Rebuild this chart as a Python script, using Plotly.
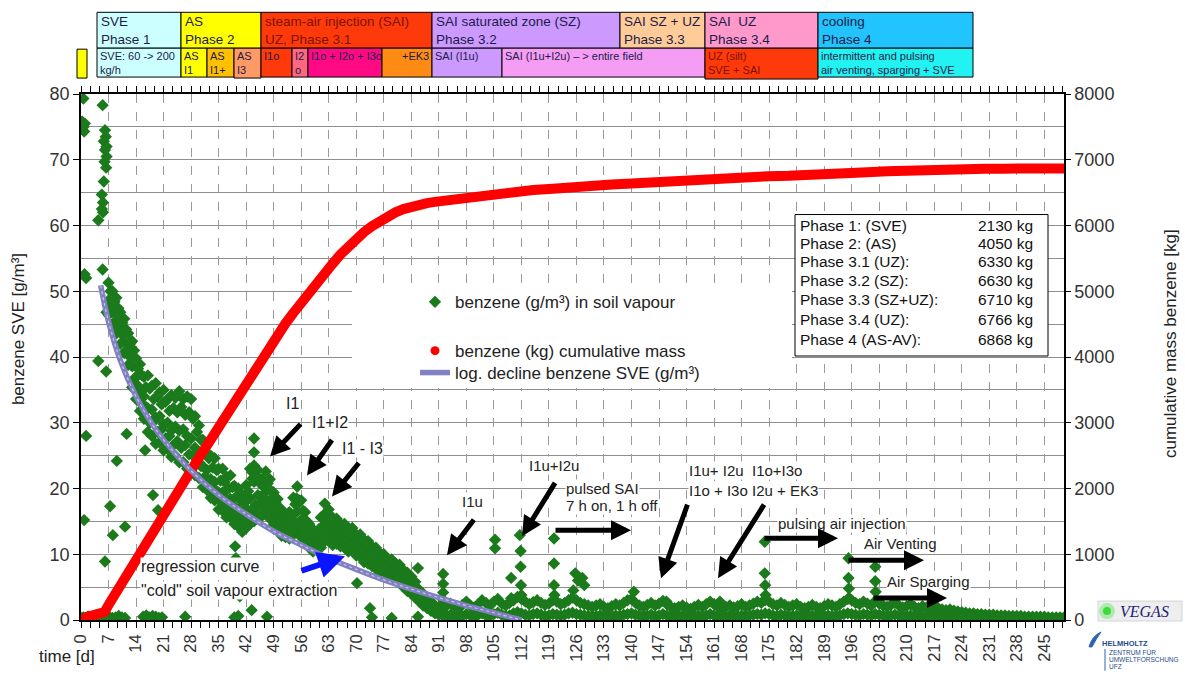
import plotly.graph_objects as go

# ---------------------------------------------------------------------------
# Data
# ---------------------------------------------------------------------------

# cumulative extracted benzene mass [kg] (right axis)
mass_day = [0, 1, 2, 3, 4, 5, 6, 7, 8,
            10, 12, 14, 16, 18, 20, 22, 24, 26, 28, 30, 32, 34, 36, 38, 40,
            42, 44, 46, 48, 50, 52, 54, 56, 58, 60, 62, 64, 66, 68, 70, 72,
            74, 76, 78, 80, 82, 84, 86, 88, 90,
            95, 100, 105, 110, 115, 120, 125, 130, 135, 140, 145, 150, 155,
            160, 165, 170, 175, 180, 185, 190, 195, 200, 205, 210, 215, 220,
            225, 230, 235, 240, 245, 250]
mass_kg = [0, 40, 60, 70, 75, 80, 120, 230, 330,
           520, 720, 930, 1120, 1310, 1490, 1680, 1880, 2070, 2290, 2470, 2650,
           2840, 3030, 3220, 3420, 3620, 3810, 4000, 4180, 4350, 4510, 4670,
           4830, 4990, 5140, 5280, 5420, 5560, 5690, 5800, 5900, 5990, 6070,
           6140, 6200, 6250, 6290, 6320, 6340, 6360,
           6400, 6440, 6480, 6510, 6540, 6560, 6590, 6610, 6625, 6640, 6660,
           6680, 6695, 6710, 6725, 6740, 6750, 6755, 6760, 6766, 6790, 6810,
           6825, 6838, 6848, 6855, 6860, 6863, 6865, 6866, 6867, 6868]

# logarithmic decline of the "cold" SVE concentration [g/m3]
fit_day = [5, 7, 10, 14, 18, 21, 28, 35, 42, 49, 56, 63, 70, 77, 84, 91, 98, 105, 112]
fit_conc = [50.9, 45.4, 39.5, 34.0, 29.9, 27.4, 22.7, 19.0, 16.1, 13.5, 11.4,
            9.4, 7.7, 6.1, 4.7, 3.4, 2.2, 1.1, 0.0]

# benzene in soil vapour [g/m3] - start-up readings, days 0-7
start_day = [0.6, 0.3, 0.6, 0.8, 1.0, 0.9, 1.3, 0.8, 1.3,
             5.5, 6.1, 6.3, 5.8, 6.5, 6.1, 6.5, 6.0, 6.4, 5.8, 5.3, 5.6, 5.3,
             5.6, 4.4, 5.5, 4.4, 6.4, 6.5]
start_conc = [79.3, 75.8, 75.0, 74.3, 75.5, 52.6, 52.0, 15.2, 28.0,
              78.3, 74.5, 73.5, 72.8, 72.0, 71.5, 70.5, 69.7, 68.8, 66.7, 64.7,
              63.5, 62.5, 62.0, 60.8, 53.3, 39.4, 37.8, 46.8]

# daily readings, days 7-92: upper, middle and lower part of the scatter band
band_day = list(range(7, 93))
band_hi = [51.3, 50.0, 49.0, 46.8, 45.8, 43.6, 42.4, 39.8, 38.9, 37.0,
           37.2, 35.6, 36.0, 34.6, 35.0, 33.6, 34.2, 33.8, 34.8, 33.6,
           34.0, 33.6, 31.0, 29.6, 27.4, 26.6, 25.0, 24.6, 23.0, 23.0,
           21.8, 22.0, 20.4, 20.0, 19.0, 20.5, 23.0, 27.6, 22.8, 21.4,
           22.6, 21.4, 19.4, 18.4, 16.8, 15.6, 16.4, 18.6, 20.3, 18.2,
           16.4, 14.6, 13.8, 13.2, 15.6, 17.7, 16.8, 15.6, 15.4, 14.6,
           14.6, 14.0, 14.0, 13.0, 13.0, 12.2, 12.0, 11.2, 11.0, 10.2,
           10.0, 9.2, 9.2, 8.6, 8.4, 7.6, 7.2, 6.6, 5.8, 4.6,
           4.0, 3.2, 2.8, 2.2, 2.0, 1.9]
band_mid = [48.6, 47.8, 45.6, 44.6, 42.4, 41.0, 38.6, 37.0, 34.6, 34.0,
            32.2, 32.0, 30.8, 31.0, 29.8, 30.0, 28.8, 29.4, 28.8, 29.0,
            28.0, 27.6, 26.2, 25.4, 23.4, 22.8, 21.4, 21.0, 19.4, 19.4,
            18.4, 18.4, 17.2, 16.8, 16.0, 17.0, 18.5, 21.0, 19.0, 18.6,
            19.5, 18.2, 16.6, 15.8, 14.6, 14.2, 14.0, 15.2, 16.5, 15.2,
            13.6, 12.8, 12.0, 11.8, 13.0, 14.6, 14.2, 13.4, 13.2, 12.8,
            12.6, 12.0, 12.2, 11.4, 11.2, 10.4, 10.2, 9.4, 9.2, 8.4,
            8.6, 7.8, 7.8, 7.4, 7.0, 6.4, 5.6, 5.0, 4.6, 3.6,
            3.0, 2.6, 2.0, 1.6, 1.4, 1.3]
band_lo = [46.4, 45.0, 43.6, 42.0, 40.6, 38.8, 35.4, 33.6, 31.8, 30.6,
           28.6, 28.0, 26.8, 27.0, 25.8, 26.0, 24.8, 25.0, 24.0, 24.0,
           23.0, 22.6, 22.0, 21.6, 20.2, 19.8, 18.6, 18.2, 16.8, 16.6,
           15.6, 15.6, 14.6, 14.2, 13.4, 14.0, 14.6, 15.0, 16.0, 15.8,
           16.6, 15.4, 14.4, 14.0, 12.8, 12.6, 12.4, 13.0, 13.4, 12.6,
           11.8, 11.0, 10.4, 10.6, 11.0, 12.0, 12.0, 11.4, 11.6, 11.2,
           11.0, 10.4, 10.6, 9.8, 9.6, 8.8, 8.6, 8.2, 7.8, 7.2,
           7.4, 6.8, 6.6, 6.2, 5.8, 5.0, 4.4, 4.0, 3.4, 2.8,
           2.2, 1.8, 1.4, 1.0, 0.8, 0.7]

# readings taken in between (days 7.5-91.5)
half_day = [d + 0.5 for d in range(7, 92)]
band_a = [50.0, 48.4, 47.4, 45.2, 44.2, 42.0, 41.0, 38.2, 37.2, 35.4,
          35.2, 33.6, 34.0, 32.8, 33.2, 31.8, 32.2, 31.6, 32.4, 31.2,
          31.6, 30.6, 28.6, 27.4, 25.6, 24.6, 23.2, 22.8, 21.2, 21.0,
          20.0, 20.2, 18.8, 18.2, 17.8, 19.6, 22.5, 22.0, 20.8, 20.2,
          20.8, 19.6, 17.8, 17.0, 15.6, 15.2, 16.0, 17.6, 18.2, 16.6,
          15.0, 13.8, 12.8, 13.8, 15.8, 16.0, 15.2, 14.6, 14.0, 13.8,
          13.4, 13.2, 12.6, 12.4, 11.6, 11.4, 10.6, 10.4, 9.6, 9.4,
          8.8, 8.6, 8.0, 8.0, 7.2, 6.8, 6.0, 5.4, 4.2, 3.8,
          3.0, 2.6, 2.0, 1.8, 1.6]
band_b = [47.2, 46.6, 44.2, 43.4, 41.0, 40.0, 36.6, 35.6, 32.8, 32.4,
          30.0, 30.2, 28.6, 29.0, 27.6, 28.0, 26.6, 27.2, 26.2, 26.6,
          25.2, 25.0, 24.0, 23.4, 21.8, 21.2, 19.8, 19.6, 18.0, 18.0,
          16.8, 17.0, 15.8, 15.6, 14.8, 15.6, 16.6, 17.2, 17.6, 17.0,
          18.0, 16.8, 15.4, 14.8, 13.6, 13.4, 13.2, 14.0, 14.8, 13.8,
          12.6, 12.0, 11.2, 11.2, 12.0, 13.2, 13.0, 12.4, 12.4, 12.0,
          11.8, 11.2, 11.4, 10.6, 10.4, 9.6, 9.4, 8.8, 8.6, 7.8,
          8.0, 7.2, 7.2, 6.8, 6.4, 5.6, 5.0, 4.4, 3.8, 3.2,
          2.6, 2.2, 1.6, 1.2, 1.0]

# single readings: scattered values and injection peaks
peak_day = [11.6, 9.1, 7.4, 18.3, 19.6, 11.2, 8.1, 6.1, 16.3,
            39.2, 39.4, 40.4, 43.4,
            44.0, 44.0, 43.6, 44.4, 47.3, 54.8, 55.3, 61.8, 62.3,
            70.2, 73.5, 85.7, 92.1, 92.1, 92.1, 92.2,
            105.3, 105.3, 109.4, 109.4,
            111.6, 111.8, 111.8, 111.9, 112.0,
            120.3, 120.3, 120.3, 120.4,
            125.7, 126.4, 127.5, 128.0, 125.2,
            140.6, 148.9, 162.5,
            173.9, 173.9, 174.0, 174.1,
            195.2, 195.2, 195.3, 195.4,
            202.0, 202.0, 202.1, 202.2]
peak_conc = [28.3, 24.2, 17.3, 19.0, 16.7, 14.2, 12.9, 8.9, 25.8,
             11.2, 9.4, 3.6, 1.5,
             25.5, 23.5, 21.5, 17.5, 20.8, 18.5, 17.8, 16.0, 15.8,
             5.6, 1.8, 7.9, 7.0, 5.5, 4.2, 3.0,
             12.2, 10.9, 6.4, 3.3,
             12.9, 10.5, 8.1, 5.3, 3.8,
             12.4, 8.6, 5.3, 3.8,
             7.1, 6.0, 6.4, 5.3, 4.5,
             4.3, 2.8, 2.8,
             11.9, 7.1, 5.3, 3.8,
             9.4, 6.4, 4.8, 3.3,
             8.1, 5.9, 4.3, 3.0]

# near-zero readings during phases 1 - 3.1
zero_day = [0.2, 0.6, 1.2, 1.8, 2.4, 3.0, 3.6, 4.8, 5.6, 6.4, 7.2, 8.0, 8.8,
            9.6, 10.4, 11.2, 15.8, 16.6, 17.4, 18.2, 19.0, 19.8, 20.6, 26.5,
            39.0, 40.0, 47.3, 74.0, 79.0, 85.7]
zero_conc = [0.3, 0.4, 0.3, 0.5, 0.3, 0.4, 0.6, 0.5, 0.3, 0.4, 0.5, 0.3, 0.4,
             0.6, 0.4, 0.3, 0.5, 0.7, 0.4, 0.6, 0.5, 0.3, 0.4, 0.5,
             0.4, 0.6, 0.5, 0.4, 0.3, 0.5]

# daily readings, days 93-250: upper and lower part of the low band
tail_day = list(range(93, 251))
tail_hi = [2.2, 2.5, 2.0, 1.8, 2.3, 2.8, 2.2, 1.9,
           2.4, 3.0, 2.6, 2.2, 2.8, 3.2, 2.5, 2.2, 2.6, 3.0,
           3.5, 3.2, 2.8, 2.4, 2.7, 3.0, 2.6, 2.3, 2.5, 3.0,
           2.8, 2.4, 2.6, 3.0, 3.4, 3.0, 2.6, 2.4, 2.2, 2.0,
           2.2, 2.4, 2.0, 1.8, 2.1, 2.4, 2.2, 2.6, 3.0, 3.2,
           2.6, 2.2, 2.0, 2.3, 2.6, 2.2, 2.5, 2.9, 2.4, 2.0,
           1.8, 2.0, 2.2, 1.9, 1.7, 2.0, 2.3, 2.0, 2.4, 2.8,
           2.4, 2.0, 1.8, 2.0, 2.2, 1.9, 2.1, 2.4, 2.0, 2.2,
           2.5, 2.8, 2.6, 3.0, 2.8, 2.4, 2.2, 2.6, 2.3, 2.0,
           2.2, 2.4, 2.0, 1.8, 2.0, 2.3, 2.0, 1.8, 2.1, 2.4,
           2.2, 2.0, 2.4, 2.8, 3.2, 3.0, 2.6, 2.4, 2.8, 2.5,
           2.2, 2.8, 2.5, 2.2, 2.0, 2.3, 2.6, 2.2, 1.9, 2.1,
           2.4, 2.0, 1.8, 2.1, 1.9, 1.7, 2.0, 1.8, 1.6, 1.5,
           1.6, 1.4, 1.3, 1.2, 1.1, 1.0, 1.0, 0.9, 0.9, 0.8,
           0.8, 0.8, 0.7, 0.7, 0.7, 0.6, 0.6, 0.6, 0.6, 0.5,
           0.5, 0.5, 0.5, 0.5, 0.5, 0.4, 0.4, 0.4, 0.4, 0.4]
tail_lo = [0.6, 0.8, 0.5, 0.7, 0.6, 0.9, 0.7, 0.5,
           0.8, 1.0, 0.7, 0.6, 0.9, 1.1, 0.8, 0.6, 0.7, 1.0,
           1.2, 1.0, 0.8, 0.7, 0.9, 1.0, 0.8, 0.6, 0.7, 0.9,
           0.8, 0.7, 0.8, 1.0, 1.1, 0.9, 0.8, 0.7, 0.6, 0.6,
           0.6, 0.7, 0.6, 0.5, 0.6, 0.7, 0.6, 0.8, 0.9, 1.0,
           0.8, 0.7, 0.6, 0.7, 0.8, 0.6, 0.7, 0.9, 0.7, 0.6,
           0.5, 0.6, 0.7, 0.6, 0.5, 0.6, 0.7, 0.6, 0.7, 0.9,
           0.7, 0.6, 0.5, 0.6, 0.7, 0.6, 0.6, 0.7, 0.6, 0.7,
           0.8, 0.9, 0.8, 1.0, 0.9, 0.7, 0.6, 0.8, 0.7, 0.6,
           0.6, 0.7, 0.6, 0.5, 0.6, 0.7, 0.6, 0.5, 0.6, 0.7,
           0.6, 0.6, 0.7, 0.9, 1.0, 0.9, 0.8, 0.7, 0.9, 0.8,
           0.7, 0.9, 0.8, 0.7, 0.6, 0.7, 0.8, 0.7, 0.6, 0.6,
           0.7, 0.6, 0.5, 0.6, 0.5, 0.5, 0.6, 0.5, 0.5, 0.4,
           0.4, 0.4, 0.4, 0.3, 0.3, 0.3, 0.3, 0.3, 0.3, 0.2,
           0.2, 0.2, 0.2, 0.2, 0.2, 0.2, 0.2, 0.2, 0.2, 0.2,
           0.2, 0.2, 0.2, 0.2, 0.2, 0.2, 0.2, 0.2, 0.2, 0.2]

# extracted mass per phase (text box)
phase_names = ["Phase 1: (SVE)", "Phase 2: (AS)", "Phase 3.1 (UZ):",
               "Phase 3.2 (SZ):", "Phase 3.3 (SZ+UZ):", "Phase 3.4 (UZ):",
               "Phase 4 (AS-AV):"]
phase_mass = [2130, 4050, 6330, 6630, 6710, 6766, 6868]

x_ticks = list(range(0, 246, 7))

# ---------------------------------------------------------------------------
# Page geometry helpers
# ---------------------------------------------------------------------------
FONT = "Liberation Sans, Arial, sans-serif"
TXT = "#222222"
W, H = 1185, 674
M_L, M_R, M_T, M_B = 81, 121, 94, 52
PLOT_W = W - M_L - M_R
PLOT_H = H - M_T - M_B


def fx(px):
    return (px - M_L) / PLOT_W


def fy(py):
    return (H - M_B - py) / PLOT_H


# ---------------------------------------------------------------------------
# Traces
# ---------------------------------------------------------------------------
green_x = (start_day + peak_day + zero_day + band_day + band_day + band_day
           + half_day + half_day + tail_day + tail_day)
green_y = (start_conc + peak_conc + zero_conc + band_hi + band_mid + band_lo
           + band_a + band_b + tail_hi + tail_lo)

fig = go.Figure()

fig.add_trace(go.Scatter(
    x=green_x, y=green_y, mode="markers", yaxis="y",
    marker=dict(symbol="diamond", size=9.5, color="#1b7a1b", line=dict(width=0)),
    name="benzene (g/m³) in soil vapour", legend="legend",
))

fig.add_trace(go.Scatter(
    x=mass_day, y=mass_kg, mode="lines", yaxis="y2",
    line=dict(color="#ff0000", width=10), showlegend=False,
    name="benzene (kg) cumulative mass",
))
fig.add_trace(go.Scatter(
    x=[None], y=[None], mode="markers", yaxis="y2",
    marker=dict(symbol="circle", size=9, color="#ff0000"),
    name="benzene (kg) cumulative mass", legend="legend2",
))

fig.add_trace(go.Scatter(
    x=fit_day, y=fit_conc, mode="lines", yaxis="y3",
    line=dict(color="#8080c2", width=5.5, shape="spline"),
    name="log. decline benzene SVE (g/m³)", legend="legend3",
))
# hatched look of the regression band
fig.add_trace(go.Scatter(
    x=fit_day, y=fit_conc, mode="lines", yaxis="y3",
    line=dict(color="rgba(255,255,255,0.55)", width=1.2, shape="spline", dash="dot"),
    showlegend=False, hoverinfo="skip",
))

# ---------------------------------------------------------------------------
# Shapes and annotations
# ---------------------------------------------------------------------------
shapes = []
annotations = []


def text(px, py, s, size=16, anchor="left", color=TXT, bg=None, **kw):
    d = dict(x=fx(px), y=fy(py), xref="paper", yref="paper", text=s,
             showarrow=False, xanchor=anchor, yanchor=kw.pop("yanchor", "middle"),
             font=dict(family=kw.pop("family", FONT), size=size, color=color),
             borderpad=0, align=kw.pop("align", anchor if anchor != "center" else "center"))
    if bg:
        d["bgcolor"] = bg
    d.update(kw)
    annotations.append(d)


def arrow(tx, ty, hx, hy, color="black", width=5, size=0.8):
    annotations.append(dict(
        x=fx(hx), y=fy(hy), xref="paper", yref="paper",
        ax=tx - hx, ay=ty - hy, axref="pixel", ayref="pixel",
        text="", showarrow=True, arrowhead=2, arrowsize=size,
        arrowwidth=width, arrowcolor=color, standoff=0, startstandoff=0,
    ))


def rect(x0, y0, x1, y1, fill, line="black", lw=1, layer="above"):
    shapes.append(dict(type="rect", xref="paper", yref="paper",
                       x0=fx(x0), x1=fx(x1), y0=fy(y0), y1=fy(y1),
                       fillcolor=fill, line=dict(color=line, width=lw), layer=layer))


# white area behind the legend
rect(352, 284, 792, 389, "white", line="rgba(0,0,0,0)", lw=0)

# phase header table
NAVY = "#1c1c48"
DRED = "#7c1200"
header_top = [
    (97, 181, "#ccffff", "SVE<br>Phase 1", NAVY),
    (181, 261, "#ffff00", "AS<br>Phase 2", NAVY),
    (261, 432, "#ff3a0a", "steam-air injection (SAI)<br>UZ, Phase 3.1", DRED),
    (432, 620, "#cc99ff", "SAI saturated zone (SZ)<br>Phase 3.2", NAVY),
    (620, 705, "#ffcc99", "SAI SZ + UZ<br>Phase 3.3", NAVY),
    (705, 818, "#ff99cc", "SAI  UZ<br>Phase 3.4", NAVY),
    (818, 973, "#22c4ff", "cooling<br>Phase 4", NAVY),
]
header_low = [
    (97, 181, 77, "#ccffff", "SVE: 60 -> 200<br>kg/h", NAVY, "left"),
    (181, 207, 77, "#ffff00", "AS<br>I1", NAVY, "left"),
    (207, 234, 77, "#ffc000", "AS<br>I1+", NAVY, "left"),
    (234, 261, 78, "#ff9966", "AS<br>I3", NAVY, "left"),
    (261, 292, 77, "#ff3a0a", "I1o", NAVY, "left"),
    (292, 308, 77, "#ff6680", "I2<br>o", NAVY, "left"),
    (308, 382, 77, "#ff0a84", "I1o + I2o + I3o", NAVY, "left"),
    (382, 432, 77, "#ff8a14", "+EK3", NAVY, "right"),
    (432, 502, 77, "#cc99ff", "SAI (I1u)", NAVY, "left"),
    (502, 705, 77, "#f59cf5", "SAI (I1u+I2u) – > entire field", NAVY, "left"),
    (705, 818, 79, "#ff3a0a", "UZ (silt)<br>SVE + SAI", DRED, "left"),
    (818, 973, 77, "#22f2f2", "intermittent and pulsing<br>air venting, sparging + SVE", NAVY, "left"),
]
for x0, x1, fill, label, col in header_top:
    rect(x0, 12, x1, 48, fill)
    text(x0 + 3, 13, label, size=13.5, color=col, yanchor="top")
for x0, x1, y1, fill, label, col, al in header_low:
    rect(x0, 48, x1, y1, fill)
    if al == "right":
        text(x1 - 2, 49, label, size=11, color=col, anchor="right", yanchor="top")
    else:
        text(x0 + 2, 49, label, size=11, color=col, yanchor="top")
rect(77, 49, 87, 78, "#ffff00")

# mass per phase box
rect(795, 215, 1048, 357, "white")
box_rows = [226, 244, 262, 281, 300, 320, 340]
for row_y, name, m in zip(box_rows, phase_names, phase_mass):
    text(799, row_y, name, size=15.5, color="#111")
    text(1034, row_y, f"{m} kg", size=15.5, color="#111", anchor="right")

# event labels
W_BG = "white"
text(140, 568, "regression curve", size=16, bg=W_BG)
text(140, 592, '"cold" soil vapour extraction', size=16, bg=W_BG)
text(292, 405, "I1", size=16, anchor="center", bg=W_BG)
text(330, 424, "I1+I2", size=16, anchor="center", bg=W_BG)
text(362, 450, "I1 - I3", size=16, anchor="center", bg=W_BG)
text(472, 503, "I1u", size=15, anchor="center", bg=W_BG)
text(554, 467, "I1u+I2u", size=15, anchor="center", bg=W_BG)
text(565, 490, "pulsed SAI", size=15, bg=W_BG)
text(565, 507, "7 h on, 1 h off", size=15, bg=W_BG)
text(688, 472, "I1u+ I2u  I1o+I3o", size=15, bg=W_BG)
text(688, 492, "I1o + I3o I2u + EK3", size=15, bg=W_BG)
text(777, 525, "pulsing air injection", size=15, bg=W_BG)
text(863, 545, "Air Venting", size=15, bg=W_BG)
text(886, 583, "Air Sparging", size=15, bg=W_BG)

arrow(302, 424, 270, 458)
arrow(333, 440, 307, 477)
arrow(360, 463, 332, 498)
arrow(300, 573, 345, 558, color="#0a14ff", width=6, size=0.9)
arrow(475, 520, 447, 557)
arrow(556, 483, 522, 538)
arrow(554, 532, 631, 532)
arrow(688, 505, 661, 580)
arrow(765, 505, 718, 580)
arrow(763, 540, 838, 540)
arrow(847, 562, 924, 562)
arrow(872, 600, 947, 600)

# axis titles
text(18, 330, "benzene SVE [g/m³]", size=17, anchor="center", textangle=-90)
text(1170, 345, "cumulative mass benzene [kg]", size=17, anchor="center", textangle=-90)
text(67, 659, "time [d]", size=17, anchor="center")

# logos
rect(1098, 603, 1182, 623, "#eeeeee", line="#d4d4d4")
shapes.append(dict(type="circle", xref="paper", yref="paper",
                   x0=fx(1099), x1=fx(1115), y0=fy(605), y1=fy(621),
                   fillcolor="rgba(90,230,90,0.45)", line=dict(width=0)))
shapes.append(dict(type="circle", xref="paper", yref="paper",
                   x0=fx(1103), x1=fx(1111), y0=fy(609), y1=fy(617),
                   fillcolor="#3fd93f", line=dict(width=0)))
text(1119, 613, "<i>VEGAS</i>", size=16, color="#1a2472",
     family="Liberation Serif, DejaVu Serif, serif")
shapes.append(dict(type="path", xref="paper", yref="paper",
                   path=(f"M {fx(1089)} {fy(649)} Q {fx(1092)} {fy(638)} {fx(1101)} {fy(634)} "
                         f"Q {fx(1096)} {fy(641)} {fx(1092)} {fy(649)} Z"),
                   fillcolor="#2b64b4", line=dict(color="#2b64b4", width=1)))
shapes.append(dict(type="line", xref="paper", yref="paper",
                   x0=fx(1105), x1=fx(1105), y0=fy(651), y1=fy(673),
                   line=dict(color="#2b64b4", width=1)))
text(1101, 646, "<b>HELMHOLTZ</b>", size=7.5, color="#1f4e8c")
text(1108, 655, "ZENTRUM FÜR", size=6.5, color="#1f4e8c")
text(1108, 662, "UMWELTFORSCHUNG", size=6.5, color="#1f4e8c")
text(1108, 669, "UFZ", size=6.5, color="#1f4e8c")

# ---------------------------------------------------------------------------
# Layout
# ---------------------------------------------------------------------------
GRID = "#8e8e8e"
LEG = dict(xanchor="left", yanchor="top", bgcolor="rgba(0,0,0,0)",
           font=dict(size=17, family=FONT, color=TXT), itemwidth=30)
fig.update_layout(
    width=W, height=H,
    margin=dict(l=M_L, r=M_R, t=M_T, b=M_B, pad=0),
    paper_bgcolor="white", plot_bgcolor="white",
    font=dict(family=FONT, color=TXT),
    shapes=shapes, annotations=annotations,
    legend=dict(x=fx(415), y=fy(285), **LEG),
    legend2=dict(x=fx(415), y=fy(334), **LEG),
    legend3=dict(x=fx(415), y=fy(356), **LEG),
    xaxis=dict(
        range=[0, 250], tickmode="array", tickvals=x_ticks,
        ticktext=[str(v) for v in x_ticks], tickangle=-90,
        tickfont=dict(size=16.5, color="#333"),
        showgrid=True, gridcolor="#9a9a9a", griddash="dash", gridwidth=1,
        showline=True, linecolor="black", linewidth=1.5, mirror="allticks",
        ticks="outside", ticklen=6, tickcolor="black",
        minor=dict(dtick=7 / 3, tick0=0, ticks="outside", ticklen=3,
                   tickcolor="black", showgrid=False),
        zeroline=False,
    ),
    yaxis=dict(
        range=[0, 80], dtick=10, tickfont=dict(size=18, color="#333"),
        showgrid=True, gridcolor=GRID, gridwidth=1.3,
        minor=dict(dtick=5, showgrid=True, gridcolor=GRID, gridwidth=1.3),
        showline=True, linecolor="black", linewidth=1.5,
        ticks="outside", ticklen=6, tickcolor="black", zeroline=False,
    ),
    yaxis2=dict(
        range=[0, 8000], dtick=1000, overlaying="y", side="right",
        tickfont=dict(size=18, color="#333"), showgrid=False,
        showline=True, linecolor="black", linewidth=1.5,
        ticks="outside", ticklen=5, tickcolor="black", zeroline=False,
    ),
    yaxis3=dict(range=[0, 80], overlaying="y", visible=False),
)

fig.write_html("out.html")
